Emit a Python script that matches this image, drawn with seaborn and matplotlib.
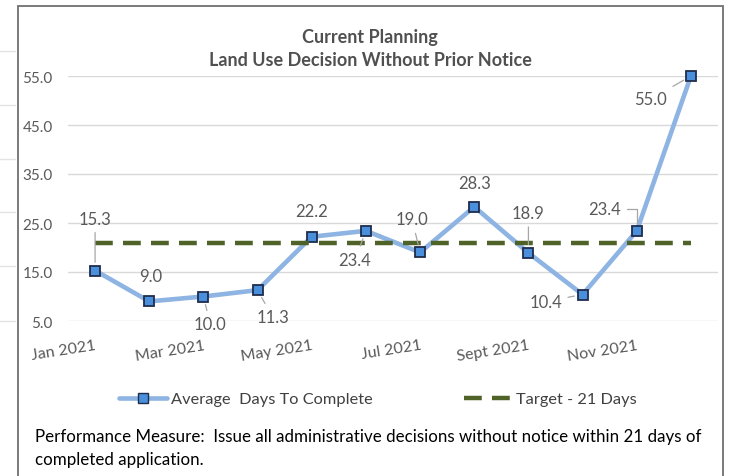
import matplotlib
matplotlib.use('Agg')
import matplotlib.pyplot as plt
from matplotlib.lines import Line2D
from matplotlib.patches import Rectangle
import seaborn as sns
import pandas as pd

months = ['Jan 2021', 'Feb 2021', 'Mar 2021', 'Apr 2021', 'May 2021', 'Jun 2021',
          'Jul 2021', 'Aug 2021', 'Sept 2021', 'Oct 2021', 'Nov 2021', 'Dec 2021']
avg_days = [15.3, 9.0, 10.0, 11.3, 22.2, 23.4, 19.0, 28.3, 18.9, 10.4, 23.4, 55.0]
target_days = [21, 21, 21, 21, 21, 21, 21, 21, 21, 21, 21, 21]
y_ticks = [5.0, 15.0, 25.0, 35.0, 45.0, 55.0]

# data label placement (pixels from the point) and whether a leader line is drawn
label_offsets = [(0, 52), (1, 25), (7, -28), (15, -27), (0, 26), (-11, -29),
                 (-8, 33), (0, 24), (0, 40), (-37, -7), (-32, 22), (-40, -23)]
has_leader = [True, False, True, True, False, True,
              True, False, True, True, True, True]

sns.set_style('white')
plt.rcParams['font.family'] = ['Lato', 'DejaVu Sans']

GRAY = '#595959'
df = pd.DataFrame(dict(pos=range(len(months)), month=months,
                       avg=avg_days, target=target_days))

fig = plt.figure(figsize=(7.31, 4.77), dpi=100)
ax = fig.add_axes([68 / 731, 155 / 477, 650 / 731, 245 / 477])

sns.lineplot(data=df, x='pos', y='avg', ax=ax, color='#8DB4E2', linewidth=3.3,
             marker='s', markersize=7, markerfacecolor='#4A8FDB',
             markeredgecolor='#1F2D4D', markeredgewidth=1.3, clip_on=False, zorder=3)
sns.lineplot(data=df, x='pos', y='target', ax=ax, color='#4F6228', linewidth=3.2,
             zorder=4, clip_on=False)
ax.lines[-1].set_dashes((4.0, 2.3))

ax.set_xlim(-0.5, len(months) - 0.5)
ax.set_ylim(5, 55)
ax.set_yticks(y_ticks)
ax.set_yticklabels([f'{v:.1f}' for v in y_ticks], fontsize=11, color=GRAY)
ax.set_xticks(df.pos[::2])
ax.set_xticklabels(df.month[::2], fontsize=11.5, color=GRAY, rotation=9,
                   ha='right', rotation_mode='anchor')
ax.tick_params(axis='y', length=0, pad=11)
ax.tick_params(axis='x', length=0, pad=12)
ax.set_xlabel('')
ax.set_ylabel('')
ax.grid(axis='y', color='#D9D9D9', linewidth=1.0)
ax.set_axisbelow(True)
sns.despine(ax=ax, left=True, bottom=True)

for i, v in enumerate(avg_days):
    dx, dy = label_offsets[i]
    arrow = None
    if has_leader[i]:
        style = 'angle,angleA=0,angleB=90,rad=0' if months[i] == 'Nov 2021' else 'arc3'
        arrow = dict(arrowstyle='-', color='#A6A6A6', lw=0.9, shrinkA=2, shrinkB=6,
                     connectionstyle=style)
    ax.annotate(f'{v:.1f}', xy=(i, v), xytext=(dx, dy), textcoords='offset pixels',
                ha='center', va='center', fontsize=12, color=GRAY,
                arrowprops=arrow, annotation_clip=False, zorder=5)

fig.text(370 / 731, 1 - 37 / 477, 'Current Planning', ha='center', va='center',
         fontsize=13, fontweight='bold', color='#505050')
fig.text(370 / 731, 1 - 60 / 477, 'Land Use Decision Without Prior Notice',
         ha='center', va='center', fontsize=13, fontweight='bold', color='#505050')

handles = [
    Line2D([], [], color='#8DB4E2', linewidth=3.3, marker='s', markersize=7,
           markerfacecolor='#4A8FDB', markeredgecolor='#1F2D4D'),
    Line2D([], [], color='#4F6228', linewidth=3.2, dashes=(4.0, 2.3)),
]
fig.legend(handles, ['Average  Days To Complete', 'Target - 21 Days'],
           loc='center', bbox_to_anchor=(378 / 731, 1 - 400 / 477), ncol=2,
           frameon=False, fontsize=11.8, handlelength=2.9, handletextpad=0.25,
           columnspacing=5.6, labelcolor='#404040')

fig.text(35 / 731, 1 - 437 / 477,
         'Performance Measure:  Issue all administrative decisions without notice within 21 days of',
         ha='left', va='center', fontsize=12.2, color='black')
fig.text(35 / 731, 1 - 460 / 477, 'completed application.',
         ha='left', va='center', fontsize=12.2, color='black')

# chart border and the faint sheet grid outside it
fig.patches.append(Rectangle((17.5 / 731, -0.02), 705 / 731, 1.005, fill=False,
                             edgecolor='#707070', linewidth=1.3,
                             transform=fig.transFigure))
for y in [52, 106, 160, 213, 267, 322]:
    fig.add_artist(Line2D([0, 15 / 731], [1 - y / 477, 1 - y / 477],
                          color='#E3E3E3', linewidth=1.0, transform=fig.transFigure))

fig.savefig('out.png', dpi=100)
